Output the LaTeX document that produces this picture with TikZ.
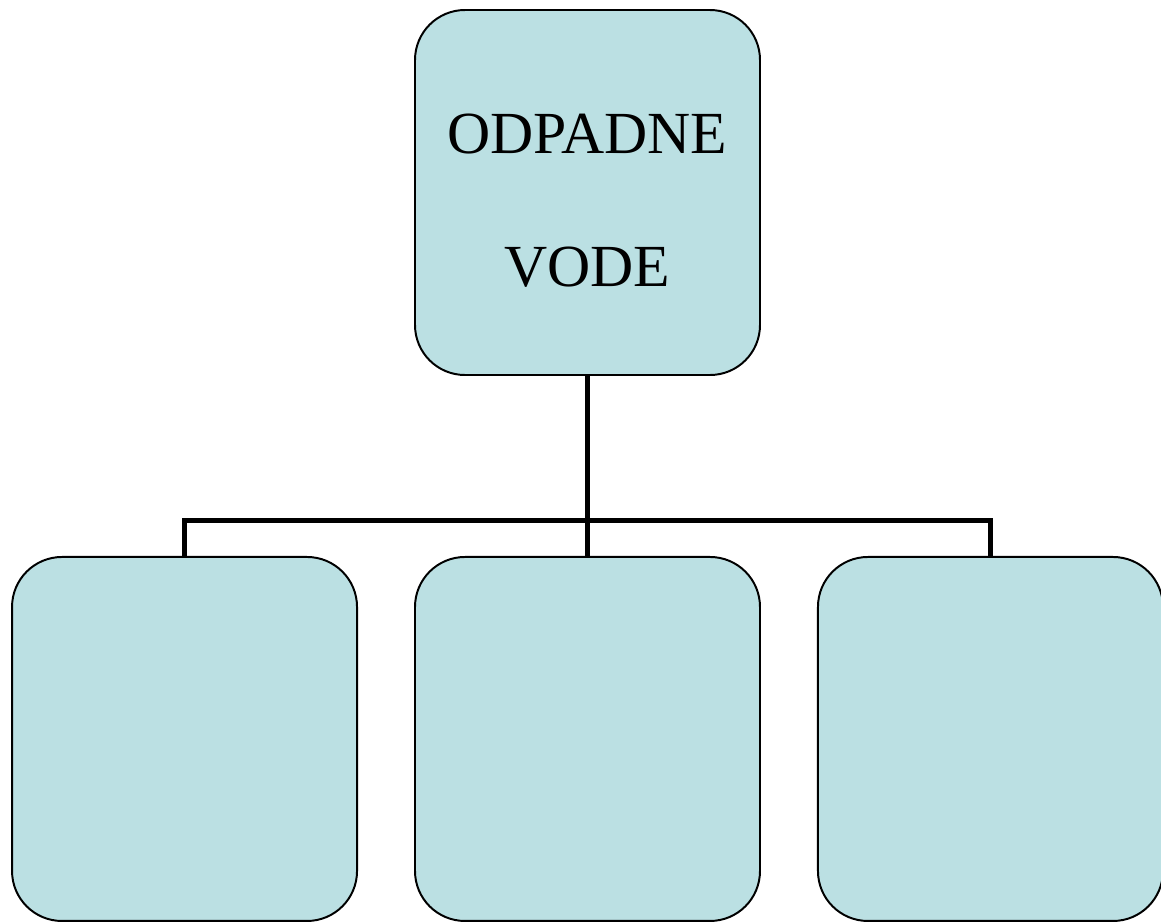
\documentclass[tikz,border=0pt]{standalone}
\usepackage{fontspec}
\setmainfont{Liberation Serif}
\usepackage{tikz}
\usetikzlibrary{positioning}
\definecolor{boxfill}{HTML}{BBE0E3}

\begin{document}
\begin{tikzpicture}[
		node distance=4.5cm and 1.4cm,
		unit/.style={draw, line width=1.4pt, fill=boxfill, rounded corners=1.25cm,
			minimum width=8.625cm, minimum height=9.1cm, inner sep=0pt,
			align=center, font=\fontsize{42.5}{95}\selectfont},
		link/.style={line width=3.6pt}
	]
	\useasboundingbox (0,0) rectangle (29.025,-23.05);
	
	\node[unit, minimum height=9.125cm] (top) at (14.6875,-4.8125) {\rule{0pt}{40pt}ODPADNE\\VODE};
	\node[unit, below=of top] (mid) {};
	\node[unit, left=of mid] (lft) {};
	\node[unit, right=of mid] (rgt) {};
	
	\draw[link] (top.south) -- (mid.north);
	\draw[link] (lft.north) -- ++(0,0.89) -| (rgt.north);
\end{tikzpicture}
\end{document}
